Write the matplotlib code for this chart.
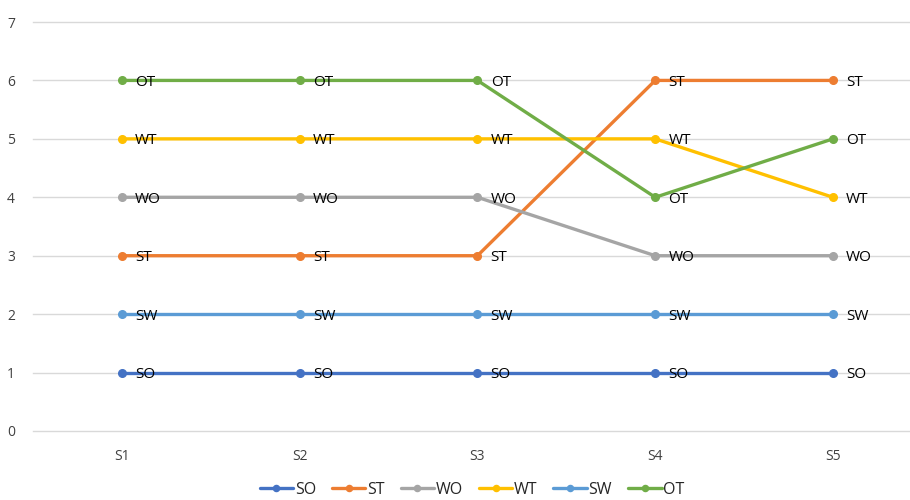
import matplotlib
matplotlib.use("Agg")
import matplotlib.pyplot as plt

plt.rcParams['font.family'] = ['Open Sans', 'DejaVu Sans']

categories = ["S1", "S2", "S3", "S4", "S5"]
series_names = ["SO", "ST", "WO", "WT", "SW", "OT"]
SO = [1, 1, 1, 1, 1]
ST = [3, 3, 3, 6, 6]
WO = [4, 4, 4, 3, 3]
WT = [5, 5, 5, 5, 4]
SW = [2, 2, 2, 2, 2]
OT = [6, 6, 6, 4, 5]
values = [SO, ST, WO, WT, SW, OT]
colors = ["#4472C4", "#ED7D31", "#A5A5A5", "#FFC000", "#5B9BD5", "#70AD47"]
y_ticks = [0, 1, 2, 3, 4, 5, 6, 7]

fig = plt.figure(figsize=(9.1, 5.0), dpi=100)
ax = fig.add_axes([33/910, 1-431/500, 1-33/910, (431-22)/500])
x = list(range(len(categories)))
for name, vals, c in zip(series_names, values, colors):
    ax.plot(x, vals, color=c, lw=2.4, marker='o', markersize=5.5, label=name,
            solid_capstyle='round', zorder=3)
    for xi, v in zip(x, vals):
        ax.annotate(name, (xi, v), xytext=(9.5, -1.5), textcoords='offset points',
                    ha='left', va='center', fontsize=11, color='#000000', zorder=4)

ax.set_xlim(-0.5, (910-122)/177.75)
ax.set_ylim(0, 7)
ax.set_yticks(y_ticks)
ax.set_xticks(x)
ax.set_xticklabels(categories)
ax.grid(axis='y', color='#D9D9D9', lw=1)
for gl in ax.get_ygridlines():
    gl.set_clip_on(False)
ax.set_axisbelow(True)
for s in ax.spines.values():
    s.set_visible(False)
ax.tick_params(length=0, labelsize=10, colors='#404040')
ax.tick_params(axis='y', pad=13)
ax.tick_params(axis='x', pad=13)

leg = fig.legend(loc='center', bbox_to_anchor=(472/910, 1-490/500), ncol=6,
                 frameon=False, fontsize=11.5, handlelength=2.1, handletextpad=0.1,
                 columnspacing=1.0, markerscale=0.8)
for t in leg.get_texts():
    t.set_color('#262626')
fig.savefig("out.png", dpi=100)
